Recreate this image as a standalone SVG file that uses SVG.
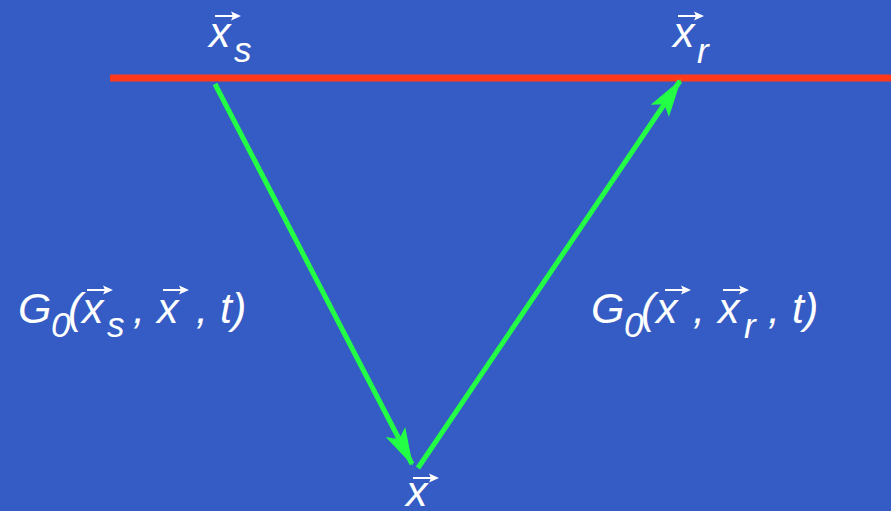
<svg xmlns="http://www.w3.org/2000/svg" width="891" height="511" viewBox="0 0 891 511">
<style>
.t{font-family:"Liberation Sans",Arial,sans-serif;font-style:italic;fill:#ffffff;font-size:43px}
.s{font-size:35px}
.va{stroke:#ffffff;stroke-width:2;fill:none}
.vh{fill:#ffffff}
.g{stroke:#22ff44;stroke-width:5;fill:none}
</style>
<defs>
<marker id="ah" markerUnits="userSpaceOnUse" viewBox="-40 -14 44 28" refX="0" refY="0" markerWidth="44" markerHeight="28" orient="auto">
<path d="M2,0 L-36,-11 L-28,0 L-36,11 Z" fill="#22ff44"/>
</marker>
<g id="vec"><line class="va" x1="0" y1="0" x2="20" y2="0"/><path class="vh" d="M26,0 L16,-4.5 L18,0 L16,4.5 Z"/></g>
</defs>
<rect width="891" height="511" fill="#345cc4"/>
<g id="surface"><line x1="110" y1="78" x2="891" y2="78" stroke="#ff3a1a" stroke-width="7"/></g>
<g id="connectors">
<line class="g" x1="215" y1="84" x2="412" y2="464" marker-end="url(#ah)"/>
<line class="g" x1="418" y1="468" x2="680" y2="81" marker-end="url(#ah)"/>
</g>
<g id="node-xs">
<use href="#vec" x="215" y="16"/>
<text class="t" x="209" y="47">x</text>
<text class="t s" x="234" y="62">s</text>
</g>
<g id="node-xr">
<use href="#vec" x="678" y="16"/>
<text class="t" x="673" y="47">x</text>
<text class="t s" x="697" y="63">r</text>
</g>
<g id="node-x">
<use href="#vec" x="413" y="478"/>
<text class="t" x="406" y="506">x</text>
</g>
<g id="label-left">
<text class="t" x="18" y="323">G</text>
<text class="t s" x="51" y="337">0</text>
<text class="t" x="68" y="323">(</text>
<use href="#vec" x="87" y="290"/>
<text class="t" x="82" y="323">x</text>
<text class="t s" x="107" y="337">s</text>
<text class="t" x="133" y="323">,</text>
<use href="#vec" x="163" y="290"/>
<text class="t" x="157" y="323">x</text>
<text class="t" x="196" y="323">,</text>
<text class="t" x="220" y="323">t)</text>
</g>
<g id="label-right">
<text class="t" x="591" y="323">G</text>
<text class="t s" x="624" y="337">0</text>
<text class="t" x="641" y="323">(</text>
<use href="#vec" x="665" y="290"/>
<text class="t" x="656" y="323">x</text>
<text class="t" x="693" y="323">,</text>
<use href="#vec" x="723" y="290"/>
<text class="t" x="718" y="323">x</text>
<text class="t s" x="744" y="338">r</text>
<text class="t" x="768" y="323">,</text>
<text class="t" x="792" y="323">t)</text>
</g>
</svg>
